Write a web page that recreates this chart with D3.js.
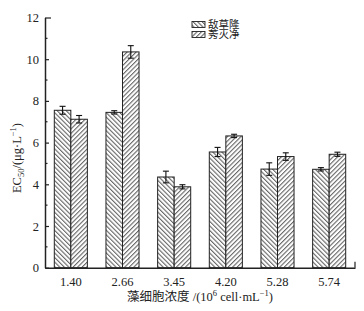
<!DOCTYPE html>
<html>
<head>
<meta charset="utf-8">
<script src="https://cdn.jsdelivr.net/npm/d3@7"></script>
<style>
  body { margin: 0; background: #fff; }
  text { font-family: "Liberation Serif", "Noto Sans CJK SC", serif; fill: #222; }
</style>
</head>
<body>
<svg id="chart"></svg>
<script>
// data
const categories = ['1.40', '2.66', '3.45', '4.20', '5.28', '5.74'];
const seriesNames = ['敌草隆', '莠灭净'];
const diuron = [7.55, 7.45, 4.35, 5.55, 4.73, 4.72];
const diuronErr = [0.19, 0.08, 0.28, 0.22, 0.30, 0.08];
const ametryn = [7.12, 10.35, 3.88, 6.32, 5.33, 5.44];
const ametrynErr = [0.18, 0.30, 0.10, 0.08, 0.18, 0.10];
const yTicks = [0, 2, 4, 6, 8, 10, 12];

const width = 364, height = 311;
const margin = { top: 17.5, bottom: 43.3, left: 45, right: 9 };

const svg = d3.select('#chart')
    .attr('width', width)
    .attr('height', height);

// hatch patterns
const defs = svg.append('defs');
function hatch(id, angle) {
    const p = defs.append('pattern')
        .attr('id', id)
        .attr('patternUnits', 'userSpaceOnUse')
        .attr('width', 3.2)
        .attr('height', 3.2)
        .attr('patternTransform', `rotate(${angle})`);
    p.append('rect').attr('width', 3.2).attr('height', 3.2).attr('fill', '#fff');
    p.append('line')
        .attr('x1', 0.6).attr('y1', 0).attr('x2', 0.6).attr('y2', 3.2)
        .attr('stroke', '#444').attr('stroke-width', 0.9);
}
hatch('hatchA', -45);
hatch('hatchB', 45);
const fills = ['url(#hatchA)', 'url(#hatchB)'];

const x = d3.scaleBand()
    .domain(categories)
    .range([margin.left, width - margin.right])
    .paddingInner(0.36)
    .paddingOuter(0.18);

const xSub = d3.scaleBand()
    .domain(seriesNames)
    .range([0, x.bandwidth()]);

const y = d3.scaleLinear()
    .domain([0, 12])
    .range([height - margin.bottom, margin.top]);

const rows = categories.map((c, i) => ({
    cat: c,
    vals: [
        { key: seriesNames[0], v: diuron[i], e: diuronErr[i] },
        { key: seriesNames[1], v: ametryn[i], e: ametrynErr[i] }
    ]
}));

const groups = svg.append('g')
    .selectAll('g')
    .data(rows)
    .join('g')
    .attr('transform', d => `translate(${x(d.cat)},0)`);

groups.selectAll('rect')
    .data(d => d.vals)
    .join('rect')
    .attr('x', d => xSub(d.key))
    .attr('y', d => y(d.v))
    .attr('width', xSub.bandwidth())
    .attr('height', d => y(0) - y(d.v))
    .attr('fill', (d, i) => fills[i])
    .attr('stroke', '#222')
    .attr('stroke-width', 1);

// error bars
const eb = groups.selectAll('g.err')
    .data(d => d.vals)
    .join('g')
    .attr('class', 'err')
    .attr('stroke', '#111')
    .attr('stroke-width', 1.1);
eb.append('line')
    .attr('x1', d => xSub(d.key) + xSub.bandwidth() / 2)
    .attr('x2', d => xSub(d.key) + xSub.bandwidth() / 2)
    .attr('y1', d => y(d.v + d.e))
    .attr('y2', d => y(d.v - d.e));
eb.append('line')
    .attr('x1', d => xSub(d.key) + xSub.bandwidth() / 2 - 3)
    .attr('x2', d => xSub(d.key) + xSub.bandwidth() / 2 + 3)
    .attr('y1', d => y(d.v + d.e))
    .attr('y2', d => y(d.v + d.e));
eb.append('line')
    .attr('x1', d => xSub(d.key) + xSub.bandwidth() / 2 - 3)
    .attr('x2', d => xSub(d.key) + xSub.bandwidth() / 2 + 3)
    .attr('y1', d => y(d.v - d.e))
    .attr('y2', d => y(d.v - d.e));

// y axis, ticks pointing inward
const yAxis = d3.axisRight(y)
    .tickValues(yTicks)
    .tickSize(4)
    .tickSizeOuter(0)
    .tickFormat(d3.format('d'));
const yg = svg.append('g')
    .attr('transform', `translate(${margin.left},0)`)
    .call(yAxis);
yg.select('.domain').attr('stroke', '#222').attr('stroke-width', 1.5);
yg.selectAll('.tick line').attr('stroke', '#222').attr('stroke-width', 1.2);
yg.selectAll('.tick text')
    .attr('x', -6)
    .attr('text-anchor', 'end')
    .style('font-size', '12.5px');
// top tick a bit longer
yg.selectAll('.tick').filter(d => d === 12).select('line').attr('x2', 6);

// minor ticks
svg.append('g')
    .selectAll('line')
    .data(d3.range(1, 12, 2))
    .join('line')
    .attr('x1', margin.left)
    .attr('x2', margin.left + 2.5)
    .attr('y1', d => y(d))
    .attr('y2', d => y(d))
    .attr('stroke', '#222')
    .attr('stroke-width', 1.2);

// x axis
const xAxis = d3.axisBottom(x).tickSize(0).tickSizeOuter(0);
const xg = svg.append('g')
    .attr('transform', `translate(0,${y(0)})`)
    .call(xAxis);
xg.select('.domain').attr('stroke', '#222').attr('stroke-width', 1.5);
xg.selectAll('.tick text')
    .attr('dy', '1.25em')
    .style('font-size', '12.5px');
svg.append('line')
    .attr('x1', width - margin.right)
    .attr('x2', width - margin.right)
    .attr('y1', y(0))
    .attr('y2', y(0) - 6)
    .attr('stroke', '#222')
    .attr('stroke-width', 1.2);

// axis titles
const xt = svg.append('text')
    .attr('x', 200)
    .attr('y', 301)
    .attr('text-anchor', 'middle')
    .style('font-size', '12.5px');
xt.append('tspan').text('藻细胞浓度 /(10');
xt.append('tspan').attr('dy', -5).style('font-size', '8.5px').text('6');
xt.append('tspan').attr('dy', 5).text(' cell·mL');
xt.append('tspan').attr('dy', -5).style('font-size', '8.5px').text('−1');
xt.append('tspan').attr('dy', 5).text(')');

const yt = svg.append('text')
    .attr('transform', 'translate(21,158) rotate(-90)')
    .attr('text-anchor', 'middle')
    .style('font-size', '12.5px');
yt.append('tspan').text('EC');
yt.append('tspan').attr('dy', 3).style('font-size', '8.5px').text('50');
yt.append('tspan').attr('dy', -3).text('/(μg·L');
yt.append('tspan').attr('dy', -5).style('font-size', '8.5px').text('−1');
yt.append('tspan').attr('dy', 5).text(')');

// legend
const legend = svg.append('g')
    .selectAll('g')
    .data(seriesNames)
    .join('g')
    .attr('transform', (d, i) => `translate(192,${21.5 + i * 10})`);
legend.append('rect')
    .attr('width', 13)
    .attr('height', 6)
    .attr('fill', (d, i) => fills[i])
    .attr('stroke', '#222')
    .attr('stroke-width', 0.9);
legend.append('text')
    .attr('x', 16)
    .attr('y', 3)
    .attr('dy', '0.36em')
    .style('font-size', '10.5px')
    .text(d => d);
</script>
</body>
</html>
